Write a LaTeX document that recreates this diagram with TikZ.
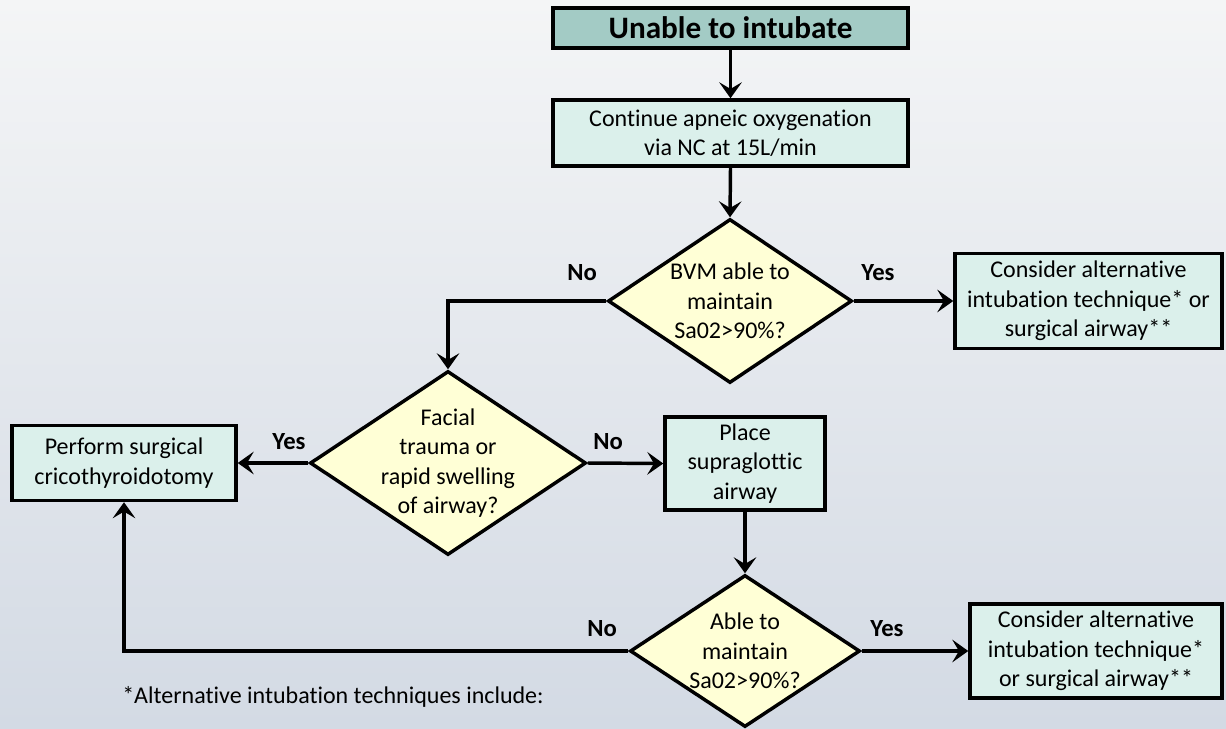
\documentclass[tikz,border=0pt]{standalone}
\usepackage{fontspec}
\setmainfont{Carlito}[Ligatures=NoCommon]
\usetikzlibrary{arrows.meta,shapes.geometric}
\definecolor{bgtop}{HTML}{F4F5F6}
\definecolor{bgbot}{HTML}{D3DAE4}
\definecolor{titlefill}{HTML}{A3CBC5}
\definecolor{boxfill}{HTML}{DBF0EB}
\definecolor{decfill}{HTML}{FFFFD6}
\tikzset{
  every node/.style={font=\fontsize{18}{22}\selectfont, align=center, inner sep=0pt},
  stepbox/.style={draw=black, line width=2.6pt, fill=boxfill, rectangle},
  titlebox/.style={draw=black, line width=2.6pt, fill=titlefill, rectangle, font=\fontsize{23.4}{27}\selectfont\bfseries},
  decision/.style={draw=black, line width=2.6pt, fill=decfill, diamond, inner sep=0pt},
  conn/.style={line width=2.6pt, -{Stealth[length=12pt,width=17pt,inset=5pt]}},
  lbl/.style={font=\fontsize{18.5}{22}\selectfont\bfseries},
}
\begin{document}
\begin{tikzpicture}[x=0.75pt,y=-0.75pt]
\shade[top color=bgtop, bottom color=bgbot] (0,0) rectangle (1226,728);
\useasboundingbox (0,0) rectangle (1226,728);

\node[titlebox, minimum width=266.25pt, minimum height=30pt] (b1) at (730.5,28) {Unable to intubate};
\node[stepbox, minimum width=266.25pt, minimum height=49.5pt] (b2) at (730.5,133) {Continue apneic oxygenation\\via NC at 15L/min};
\node[decision, minimum width=183pt, minimum height=123pt,
  label={[align=center]center:BVM able to\\maintain\\Sa02>90\%?}] (d1) at (730,301) {};
\node[stepbox, minimum width=200.25pt, minimum height=71.25pt] (b3) at (1088.5,301) {Consider alternative\\intubation technique* or\\surgical airway**};
\node[decision, minimum width=207pt, minimum height=138pt,
  label={[align=center]center:Facial\\trauma or\\rapid swelling\\of airway?}] (d2) at (448,463) {};
\node[stepbox, minimum width=168pt, minimum height=56.25pt] (b4) at (124,463) {Perform surgical\\cricothyroidotomy};
\node[stepbox, minimum width=120pt, minimum height=69.75pt] (b5) at (745,463.5) {Place\\supraglottic\\airway};
\node[decision, minimum width=172.5pt, minimum height=114pt,
  label={[align=center]center:Able to\\maintain\\Sa02>90\%?}] (d3) at (745,651) {};
\node[stepbox, minimum width=189pt, minimum height=70.5pt] (b6) at (1096,651) {Consider alternative\\intubation technique*\\or surgical airway**};

\draw[conn] (b1.south) -- (b2.north);
\draw[conn] (b2.south) -- (d1.north);
\draw[conn] (d1.west) -| (d2.north);
\draw[conn] (d1.east) -- (b3.west);
\draw[conn] (d2.west) -- (b4.east);
\draw[conn] (d2.east) -- (b5.west);
\draw[conn] (b5.south) -- (d3.north);
\draw[conn] (d3.west) -| (b4.south);
\draw[conn] (d3.east) -- (b6.west);

\node[lbl] (l1) at (582,273) {No};
\node[lbl] (l2) at (878,273) {Yes};
\node[lbl] (l3) at (289,442) {Yes};
\node[lbl] (l4) at (608,442) {No};
\node[lbl] (l5) at (602,629) {No};
\node[lbl] (l6) at (887,629) {Yes};

\node[anchor=west] (fn) at (122,697) {*Alternative intubation techniques include:};
\end{tikzpicture}
\end{document}
